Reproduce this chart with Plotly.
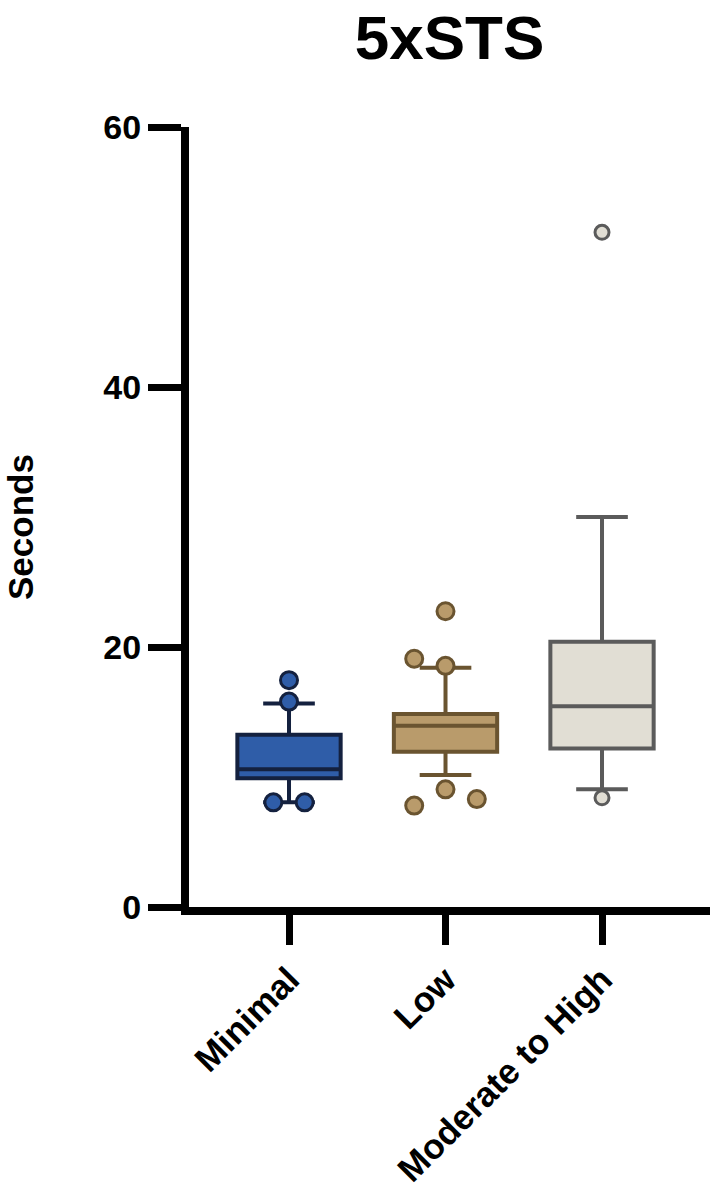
import plotly.graph_objects as go

categories = ["Minimal", "Low", "Moderate to High"]
q1 = [9.9, 11.95, 12.2]
median = [10.6, 13.95, 15.45]
q3 = [13.25, 14.85, 20.4]
lower_fence = [8.05, 10.15, 9.05]
upper_fence = [15.65, 18.4, 30.0]

# outliers per group: values and horizontal jitter (category units)
out_minimal = [17.45, 15.8, 8.05, 8.05]
jit_minimal = [0.0, 0.0, -0.10, 0.10]
out_low = [22.75, 19.1, 18.55, 9.05, 7.8, 8.3]
jit_low = [0.0, -0.20, 0.0, 0.0, -0.20, 0.20]
out_mod = [51.9, 8.4]
jit_mod = [0.0, 0.0]

fills = ["#2F5DA8", "#B99B6B", "#E1DED4"]
edges = ["#14213F", "#6A5430", "#5B5B5B"]
marker_sizes = [17, 17, 14]

y_ticks = [0, 20, 40, 60]

outliers = [out_minimal, out_low, out_mod]
jitters = [jit_minimal, jit_low, jit_mod]

fig = go.Figure()
for i, cat in enumerate(categories):
    fig.add_trace(go.Box(
        x=[i], q1=[q1[i]], median=[median[i]], q3=[q3[i]],
        lowerfence=[lower_fence[i]], upperfence=[upper_fence[i]],
        name=cat, width=0.66, whiskerwidth=0.5,
        fillcolor=fills[i], line=dict(color=edges[i], width=4),
        boxpoints=False, showlegend=False, hoverinfo="skip",
    ))
for i, cat in enumerate(categories):
    fig.add_trace(go.Scatter(
        x=[i + j for j in jitters[i]], y=outliers[i], mode="markers",
        marker=dict(size=marker_sizes[i], color=fills[i],
                    line=dict(color=edges[i], width=3)),
        showlegend=False, hoverinfo="skip",
    ))

font_family = "Liberation Sans, Arial, sans-serif"
fig.update_layout(
    width=720, height=1200,
    margin=dict(l=189, r=10, t=127, b=293),
    plot_bgcolor="white", paper_bgcolor="white",
    title=dict(text="<b>5xSTS</b>", x=0.5, xref="paper", xanchor="center",
               y=1 - 37 / 1200, yref="container", yanchor="middle",
               font=dict(family=font_family, size=62, color="black")),
    font=dict(family=font_family, color="black"),
    xaxis=dict(
        range=[-0.639, 2.69], tickvals=[0, 1, 2],
        ticktext=["<b>%s</b>" % c for c in categories],
        tickangle=-45, ticks="outside", ticklen=30, tickwidth=7, tickcolor="black",
        showline=True, linewidth=8, linecolor="black",
        showgrid=False, zeroline=False, automargin=False,
        tickfont=dict(family=font_family, size=35, color="black"),
    ),
    yaxis=dict(
        range=[0, 60], tickvals=y_ticks, ticktext=["<b>%d</b>" % v for v in y_ticks],
        ticks="outside", ticklen=33, tickwidth=7, tickcolor="black",
        showline=True, linewidth=8, linecolor="black",
        showgrid=False, zeroline=False, automargin=False,
        tickfont=dict(family=font_family, size=34, color="black"),
    ),
    annotations=[dict(
        text="<b>Seconds</b>", textangle=-90, showarrow=False,
        xref="paper", yref="paper", x=(20 - 189) / 521, y=(907 - 527) / 780,
        xanchor="center", yanchor="middle",
        font=dict(family=font_family, size=35, color="black"),
    )],
)

fig.write_html("out.html")
